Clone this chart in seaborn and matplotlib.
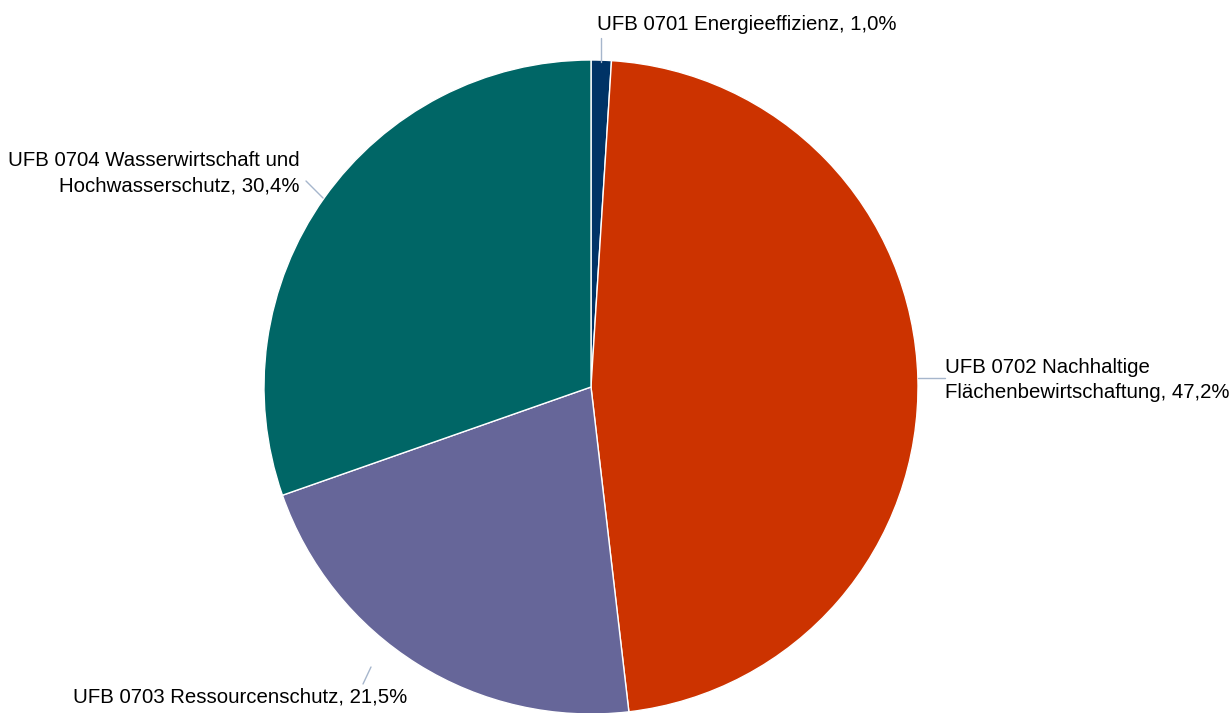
import matplotlib
matplotlib.use('Agg')
import matplotlib.pyplot as plt
import seaborn as sns

# Daten
kategorien = ['UFB 0701 Energieeffizienz',
              'UFB 0702 Nachhaltige\nFlächenbewirtschaftung',
              'UFB 0703 Ressourcenschutz',
              'UFB 0704 Wasserwirtschaft und\nHochwasserschutz']
anteile = [1.0, 47.2, 21.5, 30.4]
farben = ['#003366', '#CC3300', '#666699', '#006666']

sns.set_theme(style='white')
plt.rcParams['font.family'] = ['Liberation Sans', 'DejaVu Sans']

W, H = 1232, 713
CX, CY, R = 591, 387, 327


def px(x, y):
    # Pixel -> Datenkoordinaten (Radius = 1)
    return (x - CX) / R, (CY - y) / R


fig = plt.figure(figsize=(W / 100, H / 100), dpi=100)
ax = fig.add_axes([0, 0, 1, 1])
ax.pie(anteile, colors=farben, startangle=90, counterclock=False,
       radius=1, wedgeprops=dict(edgecolor='white', linewidth=1))
ax.set_xlim(-CX / R, (W - CX) / R)
ax.set_ylim(-(H - CY) / R, CY / R)
ax.set_aspect('equal')
ax.axis('off')

# Beschriftungen: Textposition, Ausrichtung, Führungslinie (Pixel)
layout = [
    ((597, 25), 'left', [(601, 38), (601, 62)]),
    ((945, 380), 'left', [(918, 378), (945, 378)]),
    ((73, 697), 'left', [(371, 667), (363, 684)]),
    ((300, 173), 'right', [(323, 198), (306, 181)]),
]

for name, wert, (pos, ha, linie) in zip(kategorien, anteile, layout):
    label = f"{name}, {wert:.1f}%".replace('.', ',')
    tx, ty = px(*pos)
    ax.text(tx, ty, label, ha=ha, va='center', multialignment=ha,
            fontsize=14.7, color='#000000', linespacing=1.45)
    (x0, y0), (x1, y1) = px(*linie[0]), px(*linie[1])
    ax.plot([x0, x1], [y0, y1], color='#A6B6CC', linewidth=1)

fig.savefig('out.png', dpi=100)
